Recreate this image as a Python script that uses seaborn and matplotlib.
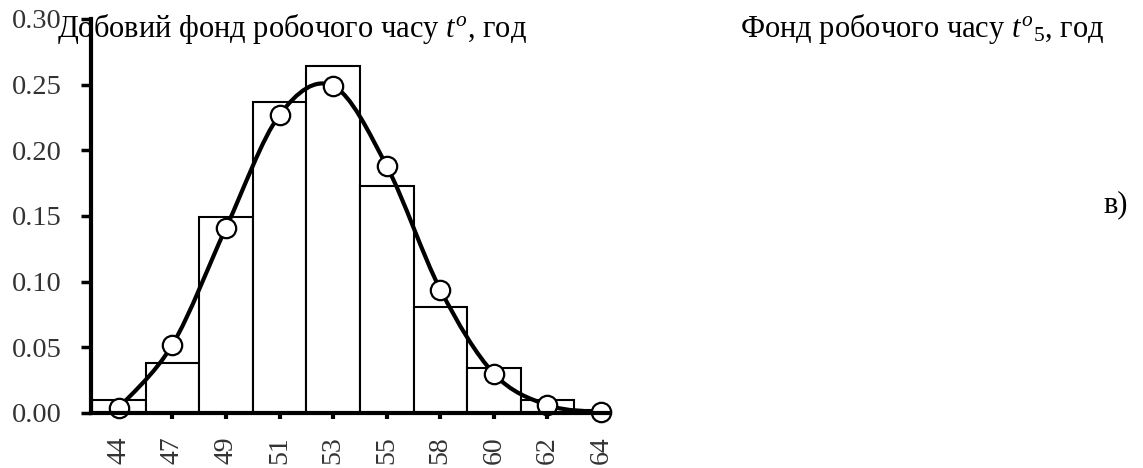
import numpy as np
import pandas as pd
import matplotlib
matplotlib.use("Agg")
import matplotlib.pyplot as plt
import seaborn as sns
from matplotlib.path import Path
from matplotlib.patches import PathPatch

# ---- data ----
categories = ["44", "47", "49", "51", "53", "55", "58", "60", "62", "64"]
hist_values = [0.010, 0.038, 0.149, 0.237, 0.264, 0.173, 0.081, 0.034, 0.010, 0.002]
curve_values = [0.004, 0.052, 0.141, 0.227, 0.249, 0.188, 0.094, 0.030, 0.006, 0.0005]
y_ticks = [0.00, 0.05, 0.10, 0.15, 0.20, 0.25, 0.30]
title_left = "Добовий фонд робочого часу $t^o$, год"
title_right = "Фонд робочого часу $t^o{}_{\\mathit{5}}$, год"
panel_label = "в)"

sns.set_theme(style="white")
plt.rcParams.update({
    "font.family": ["Liberation Serif", "DejaVu Serif"],
    "mathtext.fontset": "custom",
    "mathtext.rm": "Liberation Serif",
    "mathtext.it": "Liberation Serif:italic",
    "mathtext.bf": "Liberation Serif:bold",
})

W, H = 1143, 468
fig = plt.figure(figsize=(W / 100, H / 100), dpi=100)
left_px, right_px, top_px, bot_px = 91, 608, 19, 413
ax = fig.add_axes([left_px / W, 1 - bot_px / H, (right_px - left_px) / W, (bot_px - top_px) / H])

df = pd.DataFrame({"x": categories, "f": hist_values})
sns.barplot(data=df, x="x", y="f", order=categories, width=1.0, color="white",
            saturation=1, edgecolor="black", linewidth=1.5, ax=ax, zorder=2)

# smooth curve through the fitted points (Catmull-Rom as cubic Bezier)
pos = np.arange(len(categories), dtype=float)
pts = np.column_stack([pos, curve_values])
ext = np.vstack([pts[0], pts, pts[-1]])
verts = [pts[0]]
codes = [Path.MOVETO]
for i in range(len(pts) - 1):
    p0, p1, p2, p3 = ext[i], ext[i + 1], ext[i + 2], ext[i + 3]
    verts += [p1 + (p2 - p0) / 6, p2 - (p3 - p1) / 6, p2]
    codes += [Path.CURVE4] * 3
ax.add_patch(PathPatch(Path(verts, codes), fill=False, lw=3, edgecolor="black",
                       zorder=3, capstyle="round"))

sns.scatterplot(x=pos, y=curve_values, s=195, color="white", edgecolor="black",
                linewidth=1.6, zorder=4, ax=ax, clip_on=False)

ax.set_xlim(-0.52, 9.13)
ax.set_ylim(0, 0.30)
ax.set_yticks(y_ticks)
ax.set_yticklabels([f"{v:.2f}" for v in y_ticks])
ax.set_xticks(pos)
ax.set_xticklabels(categories, rotation=90)
ax.set_xlabel("")
ax.set_ylabel("")

for s in ["top", "right"]:
    ax.spines[s].set_visible(False)
for s in ["left", "bottom"]:
    ax.spines[s].set_linewidth(3)
    ax.spines[s].set_color("black")
    ax.spines[s].set_zorder(5)

ax.tick_params(axis="y", direction="out", length=7, width=2.5, pad=14,
               labelsize=20.5, labelcolor="#333333", color="black", left=True)
ax.tick_params(axis="x", direction="out", length=4, width=3, pad=13,
               labelsize=20, labelcolor="#333333", color="black", bottom=True)

fig.text(57 / W, 1 - 37 / H, title_left, fontsize=22, ha="left", va="baseline", color="black")
fig.text(740 / W, 1 - 37 / H, title_right, fontsize=22, ha="left", va="baseline", color="black")
fig.text(1116 / W, 1 - 205 / H, panel_label, fontsize=22, ha="center", va="center", color="black")

fig.savefig("out.png", dpi=100)
